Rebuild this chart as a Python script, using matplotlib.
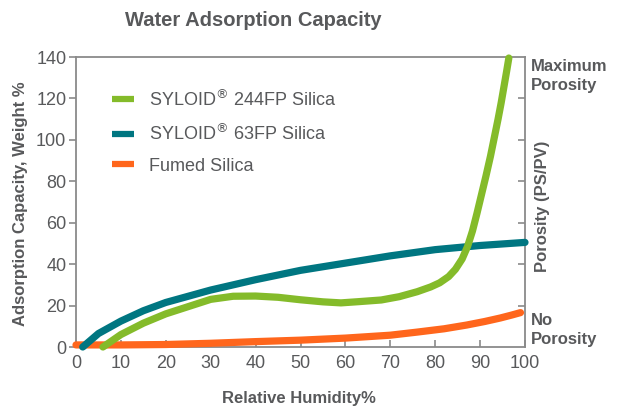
import matplotlib
matplotlib.use("Agg")
import matplotlib.pyplot as plt

plt.rcParams["font.family"] = ["Liberation Sans", "DejaVu Sans"]

# Datos
rh_244 = [6, 10, 15, 20, 25, 30, 35, 40, 45, 50, 55, 59, 63, 68, 72, 76, 79, 81, 83, 84.5, 86, 87.2, 88.3, 89.3, 90.3, 91.3, 92.3, 93.2, 94, 94.7, 95.3, 95.9, 96.4]
ads_244 = [0, 6, 11.5, 16, 19.5, 23, 24.5, 24.6, 24, 22.8, 21.8, 21.3, 21.9, 22.7, 24.3, 26.7, 29, 31, 34, 37.5, 42.5, 48.5, 56, 64.5, 73.5, 82.5, 92, 101.5, 110, 118, 125.5, 133, 139.5]

rh_63 = [1.5, 5, 10, 15, 20, 25, 30, 40, 50, 60, 70, 80, 90, 100]
ads_63 = [0, 6.5, 12.5, 17.5, 21.5, 24.5, 27.5, 32.5, 37, 40.5, 44, 47, 49, 50.5]

rh_fumed = [0, 10, 20, 30, 40, 50, 60, 70, 76, 82, 87, 91, 94.5, 97, 99]
ads_fumed = [1, 1, 1.2, 1.8, 2.6, 3.3, 4.3, 5.7, 7.2, 8.8, 10.6, 12.3, 14, 15.4, 16.6]

x_ticks = [0, 10, 20, 30, 40, 50, 60, 70, 80, 90, 100]
y_ticks = [0, 20, 40, 60, 80, 100, 120, 140]

verde = "#84bb2a"
azul = "#007681"
naranja = "#ff661c"
gris = "#58595b"
gris_eje = "#8a8a8a"

fig = plt.figure(figsize=(6.19, 4.11), dpi=100)
ax = fig.add_axes([76 / 619, 64 / 411, 449 / 619, 290 / 411])

ax.plot(rh_fumed, ads_fumed, color=naranja, linewidth=5.2, solid_capstyle="round", label="Fumed Silica",
        zorder=3, clip_on=False)
ax.plot(rh_63, ads_63, color=azul, linewidth=5.2, solid_capstyle="round", label="SYLOID$^{®}$ 63FP Silica",
        zorder=4, clip_on=False)
ax.plot(rh_244, ads_244, color=verde, linewidth=5.2, solid_capstyle="round", solid_joinstyle="round",
        label="SYLOID$^{®}$ 244FP Silica", zorder=5, clip_on=False)

ax.set_xlim(0, 100)
ax.set_ylim(0, 140)
ax.set_xticks(x_ticks)
ax.set_yticks(y_ticks)
ax.tick_params(axis="x", direction="in", length=5, width=1.2, color=gris_eje, labelsize=13, labelcolor=gris, pad=6)
ax.tick_params(axis="y", direction="out", length=5, width=1.2, color=gris_eje, labelsize=13, labelcolor=gris, pad=2)
for s in ax.spines.values():
    s.set_color(gris_eje)
    s.set_linewidth(1.3)

# Eje derecho solo con marcas
ax2 = ax.twinx()
ax2.set_ylim(0, 140)
ax2.set_yticks([20, 40, 60, 80, 100, 120])
ax2.tick_params(axis="y", direction="in", length=5, width=1.2, color=gris_eje, labelright=False)
for s in ax2.spines.values():
    s.set_visible(False)

def px(x, y):
    return x / 619, 1 - y / 411

fig.text(*px(253, 20), "Water Adsorption Capacity", ha="center", va="center", fontsize=14.5,
         fontweight="bold", color=gris)
fig.text(*px(299, 398), "Relative Humidity%", ha="center", va="center", fontsize=12,
         fontweight="bold", color=gris)
fig.text(*px(21, 204), "Adsorption Capacity, Weight %", rotation=90, ha="center", va="center",
         fontsize=12, fontweight="bold", color=gris)
fig.text(*px(543, 206), "Porosity (PS/PV)", rotation=90, ha="center", va="center",
         fontsize=12, fontweight="bold", color=gris)
fig.text(*px(531, 76), "Maximum\nPorosity", ha="left", va="center", fontsize=12,
         fontweight="bold", color=gris, linespacing=1.35)
fig.text(*px(531, 330), "No\nPorosity", ha="left", va="center", fontsize=12,
         fontweight="bold", color=gris, linespacing=1.35)

handles, labels = ax.get_legend_handles_labels()
leg = ax.legend(handles[::-1], labels[::-1], loc="upper left", bbox_to_anchor=(0.08, 0.89), frameon=False,
                borderpad=0, borderaxespad=0, handlelength=1.2, handletextpad=0.85, labelspacing=0.75,
                fontsize=13)
for t in leg.get_texts():
    t.set_color(gris)
for h in leg.get_lines():
    h.set_linewidth(4.5)
    h.set_solid_capstyle("butt")

fig.savefig("out.png", dpi=100)
